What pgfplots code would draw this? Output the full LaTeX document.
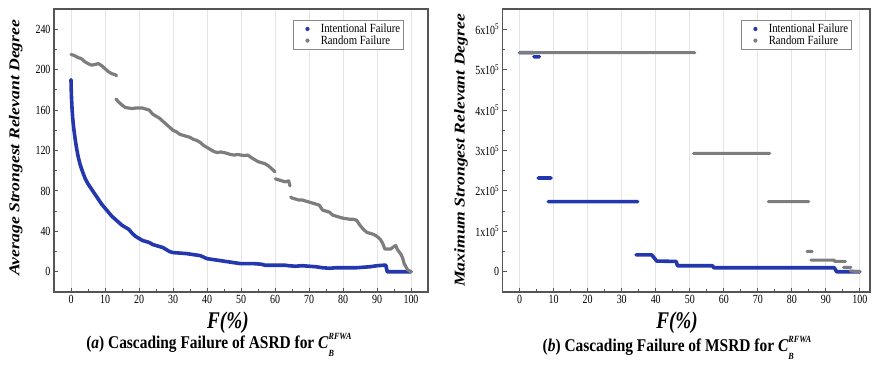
\documentclass[border=0pt]{standalone}
\usepackage{pgfplots}
\pgfplotsset{compat=1.18}
\usepackage{fontspec}
\setmainfont{Liberation Serif}
\newfontfamily\narrow{Liberation Serif}[FakeStretch=0.8]
\newfontfamily\capfont{Liberation Serif}[FakeStretch=0.86]
\newfontfamily\wide{Liberation Serif}[FakeStretch=1.18]
\definecolor{ifblue}{RGB}{35,55,175}
\definecolor{rfgray}{RGB}{125,125,125}
\definecolor{framec}{RGB}{85,85,85}
\newcommand{\CB}{\textit{C}\ooalign{\raisebox{1.05ex}{\fontsize{9.5}{9.5}\selectfont\textit{RFWA}}\cr\raisebox{-0.95ex}{\fontsize{9.5}{9.5}\selectfont\textit{B}}\hfil\cr}}
\pgfplotsset{
 mystyle/.style={
   scale only axis, height=283bp,
   axis line style={framec, line width=1.3bp},
   xtick={0,10,...,100}, minor x tick num=1, minor y tick num=1,
   tick pos=left, tick align=inside,
   major tick length=4bp, minor tick length=2.5bp,
   every tick/.style={framec, line width=0.9bp},
   xmajorgrids, major grid style={gray!20, line width=0.7bp},
   ticklabel style={font=\narrow\fontsize{12.5}{13}\selectfont},
   /pgf/number format/assume math mode=true,
   clip mode=individual,
   legend cell align=left,
   legend image code/.code={\path[draw=none,fill=none] (0,-0.05cm) rectangle (0.85cm,0.05cm); \fill[##1, draw=none] (0.45cm,0cm) circle (2.1bp);},
   legend style={draw=framec!70, line width=0.7bp, inner sep=1.5bp, row sep=-2.5bp,
     font=\capfont\fontsize{12.5}{13}\selectfont, anchor=north east},
   every axis y label/.style={rotate=90, anchor=center, font=\wide\fontsize{15}{16}\selectfont\bfseries\itshape},
   every axis x label/.style={anchor=center, font=\narrow\fontsize{24}{26}\selectfont\bfseries\itshape},
   blueplot/.style={ifblue, line width=3.6bp, line cap=round, line join=round, mark=none},
   grayplot/.style={rfgray, line width=3.2bp, line cap=round, line join=round, mark=none},
   unbounded coords=jump,
 }
}
\begin{document}
\begin{tikzpicture}
\useasboundingbox (0,0) rectangle (872bp,369bp);
\begin{axis}[mystyle, at={(54bp,77bp)}, anchor=south west, width=374bp,
  xmin=-5, xmax=105, ymin=-20, ymax=260, ytick={0,40,...,240},
  ylabel={Average Strongest Relevant Degree},
  ylabel style={at={(axis description cs:-0.102,0.51)}},
  xlabel={F(\%)},
  xlabel style={at={(axis description cs:0.465,-0.11)}},
  legend style={at={(0.936,0.961)}}]
\addplot[blueplot] coordinates {
(0,190)(0.05,182)(0.15,172)(0.3,162)(0.5,152)(0.8,142)(1.2,132)(1.6,123)(2.1,114)(2.7,106)
(3.4,99)(4.2,92)(5,87)(6,82)(7,77)(8,72)(9,67)(10,63)(11,59)(12,55)(13,52)(14,49)(15,46)
(16,44)(17,42)(18,38)(19,35)(20,33)(21,31)(22,30)(23,29)(24,27)(25,26)(26,25)(27,24)
(28,22)(29,20)(30,19)(32,18.5)(34,18)(36,17)(38,16)(39,14.5)(40,13)(42,12)(44,11)(46,10)
(48,9)(50,8)(52,8)(54,8)(56,7.5)(57,6.5)(60,6.5)(63,6.5)(64,6)(66,5.5)(68,6)(70,5.5)
(72,5)(74,4)(76,3.5)(78,4)(80,4)(82,4)(84,4)(86,4.5)(88,5)(90,6)(92,6.5)(92.6,6.5)(93,0)(100,0)};
\addlegendentry{Intentional Failure}
\addplot[grayplot] coordinates {
(0,215)(1,214)(2,212)(3,211)(4,208)(5,206)(6,204.5)(7,205)(8,206)(9,204)(10,201)(11,198)
(12,196)(13,195)(13.4,194)(13.4,nan)
(13.2,171)(14,168)(15,165)(16,162.5)(17,162)(18,161.5)(19,162)(20,162)(21,162)(22,161)
(23,160)(24,156)(25,154)(26,152)(27,149)(28,146)(29,143)(30,140)(31,138.5)(32,136)(33,135)
(34,134)(35,133)(36,131)(37,130)(38,128)(39,125)(40,123)(41,121)(42,119)(43,118)(44,118.5)
(45,118)(46,117)(47,116)(48,115.5)(49,116)(50,115.5)(51,115)(52,115.5)(53,113)(54,111)
(55,109)(56,108)(57,107)(58,105)(59,102)(60,99)(60,nan)
(60.1,92)(61,91)(62,90)(63,89)(64,90)(64.4,85)(64.4,nan)
(64.6,74)(65,73)(66,72)(67,71)(68,71)(69,70)(70,69)(71,68)(72,67)(73,66)(74,61)(75,60)
(76,59)(77,56)(78,55)(79,54)(80,53)(81,52.5)(82,52)(83,52)(84,51)(85,46)(86,42)(87,39)
(88,38)(89,37)(90,35)(91,32)(91.7,28)(92.3,22.5)(93,22.5)(94,22.5)(95,25)(95.5,26)(96,22)
(97,17.5)(97.5,14)(98,8)(99,2)(100,0)};
\addlegendentry{Random Failure}
\node[font=\capfont\fontsize{18}{20}\selectfont\bfseries] at (axis description cs:0.441,-0.187)
  {(\textit{a}) Cascading Failure of ASRD for \CB};
\end{axis}
\begin{axis}[mystyle, at={(502.7bp,77bp)}, anchor=south west, width=367.3bp,
  xmin=-5, xmax=103, ymin=-50000, ymax=650000,
  ytick={0,100000,200000,300000,400000,500000,600000},
  yticklabels={0,1x10\textsuperscript{5},2x10\textsuperscript{5},3x10\textsuperscript{5},4x10\textsuperscript{5},5x10\textsuperscript{5},6x10\textsuperscript{5}},
  scaled y ticks=false,
  ylabel={Maximum Strongest Relevant Degree},
  ylabel style={at={(axis description cs:-0.1135,0.5)}},
  xlabel={F(\%)},
  xlabel style={at={(axis description cs:0.4746,-0.11)}},
  legend style={at={(0.951,0.961)}}]
\addplot[blueplot] coordinates {
(0,542000)(4,542000)(4,nan)
(4.2,532000)(5.8,532000)(5.8,nan)
(5.4,232000)(9.2,232000)(9.2,nan)
(8.4,173500)(34.7,173500)(34.7,nan)
(34.2,42000)(38.8,42000)(40.3,26500)(46,25600)(46.4,15000)(56.7,15000)(57.1,10000)
(92.5,10000)(93.2,0)(100,0)};
\addlegendentry{Intentional Failure}
\addplot[grayplot, line width=3bp] coordinates {
(0,542000)(51.5,542000)(51.5,nan)
(51.1,293000)(73.5,293000)(73.5,nan)
(73.1,173500)(85,173500)(85,nan)
(84.5,50500)(86,50500)(86,nan)
(85.6,29000)(92.5,29000)(92.6,25600)(95.8,25600)(95.8,nan)
(95.2,10700)(97.4,10700)(97.4,nan)
(97.2,2000)(100,0)};
\addlegendentry{Random Failure}
\node[font=\capfont\fontsize{18}{20}\selectfont\bfseries] at (axis description cs:0.4746,-0.198)
  {(\textit{b}) Cascading Failure of MSRD for \CB};
\end{axis}
\end{tikzpicture}
\end{document}
